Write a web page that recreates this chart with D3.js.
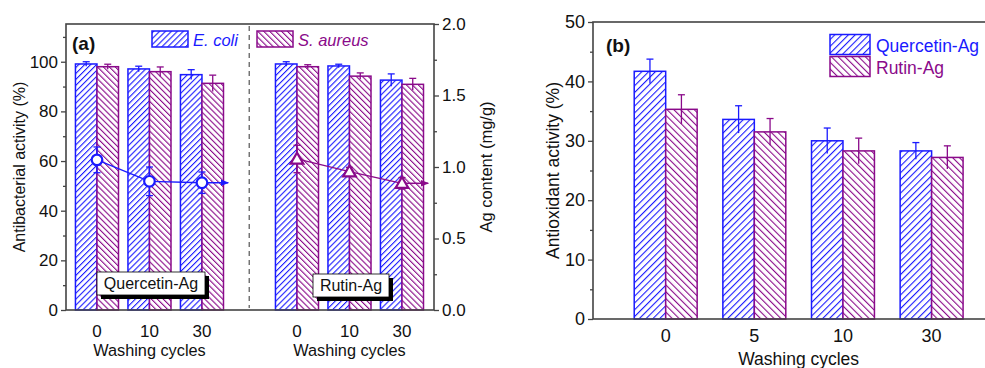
<!DOCTYPE html>
<html>
<head>
<meta charset="utf-8">
<script src="https://cdn.jsdelivr.net/npm/d3@7"></script>
<style>
  body { margin: 0; background: #fff; }
  text { font-family: "Liberation Sans", Arial, sans-serif; }
</style>
</head>
<body>
<script>
// panel (a) data: antibacterial activity (%) and Ag content (mg/g)
var cyclesA = ["0", "10", "30"];
var groupsA = ["Quercetin-Ag", "Rutin-Ag"];
var ecoli = [[99.1, 97.1, 94.8], [99.1, 98.3, 92.6]];
var ecoliErr = [[0.9, 1.1, 2.0], [0.9, 0.7, 2.5]];
var saureus = [[98.0, 96.0, 91.3], [98.0, 94.2, 90.9]];
var saureusErr = [[1.0, 1.9, 3.3], [0.8, 1.3, 2.4]];
var agContent = [[1.05, 0.90, 0.89], [1.056, 0.967, 0.886]];
var agErr = [[0.09, 0.10, 0.075], [0.096, 0.03, 0.04]];

// panel (b) data: antioxidant activity (%)
var cyclesB = ["0", "5", "10", "30"];
var quercetinAO = [41.7, 33.6, 30.0, 28.3];
var quercetinAOErr = [2.05, 2.3, 2.15, 1.4];
var rutinAO = [35.3, 31.5, 28.3, 27.2];
var rutinAOErr = [2.45, 2.25, 2.15, 1.95];

var ticksA = [0, 20, 40, 60, 80, 100];
var ticksA2 = [0, 0.5, 1.0, 1.5, 2.0];
var ticksB = [0, 10, 20, 30, 40, 50];

var BLUE = "#1a1aff", PURPLE = "#8a0a8a", AXIS = "#444";

var svg = d3.select("body").append("svg")
  .attr("width", 985).attr("height", 368);

var defs = svg.append("defs");
function hatch(id, color, angle, gap) {
  var p = defs.append("pattern")
    .attr("id", id)
    .attr("patternUnits", "userSpaceOnUse")
    .attr("width", gap).attr("height", gap)
    .attr("patternTransform", "rotate(" + angle + ")");
  p.append("rect").attr("width", gap).attr("height", gap).attr("fill", "#fff");
  p.append("line").attr("x1", 0).attr("y1", 0).attr("x2", 0).attr("y2", gap)
    .attr("stroke", color).attr("stroke-width", 2.2);
}
hatch("hBlueA", BLUE, 45, 4.2);
hatch("hPurpA", PURPLE, -45, 4.2);
hatch("hBlueB", BLUE, 45, 4.8);
hatch("hPurpB", PURPLE, -45, 4.8);

defs.append("marker").attr("id", "arrB")
  .attr("viewBox", "0 0 10 10").attr("refX", 9).attr("refY", 5)
  .attr("markerWidth", 10).attr("markerHeight", 8).attr("markerUnits", "userSpaceOnUse")
  .attr("orient", "auto")
  .append("path").attr("d", "M0,1 L10,5 L0,9 Z").attr("fill", BLUE);
defs.append("marker").attr("id", "arrP")
  .attr("viewBox", "0 0 10 10").attr("refX", 9).attr("refY", 5)
  .attr("markerWidth", 10).attr("markerHeight", 8).attr("markerUnits", "userSpaceOnUse")
  .attr("orient", "auto")
  .append("path").attr("d", "M0,1 L10,5 L0,9 Z").attr("fill", PURPLE);

function errBar(g, x, y0, y1, color, cap, both) {
  g.append("line").attr("x1", x).attr("x2", x).attr("y1", y0).attr("y2", y1)
    .attr("stroke", color).attr("stroke-width", 1.3);
  g.append("line").attr("x1", x - cap / 2).attr("x2", x + cap / 2).attr("y1", y1).attr("y2", y1)
    .attr("stroke", color).attr("stroke-width", 1.3);
  if (both) {
    g.append("line").attr("x1", x - cap / 2).attr("x2", x + cap / 2).attr("y1", y0).attr("y2", y0)
      .attr("stroke", color).attr("stroke-width", 1.3);
  }
}

function minorAxis(g, axisFn, scale, vals) {
  g.call(axisFn(scale).tickValues(vals).tickSize(3).tickFormat(""))
    .call(function(s) { s.select(".domain").remove(); s.selectAll("line").attr("stroke", AXIS).attr("stroke-width", 1.3); });
}

// ---------------- panel (a) ----------------
var aL = 66, aR = 434, aT = 24, aB = 310;
var xa = d3.scaleLinear().domain([0.41, 7.42]).range([aL, aR]);
var ya = d3.scaleLinear().domain([0, 115.2]).range([aB, aT]);
var ya2 = d3.scaleLinear().domain([0, 2]).range([aB, aT]);
var groupOffset = [1, 4.81];
var bwA = xa(0.41) - xa(0);

var pa = svg.append("g");

groupsA.forEach(function(gname, gi) {
  cyclesA.forEach(function(c, i) {
    var cx = xa(groupOffset[gi] + i);
    pa.append("rect").attr("x", cx - bwA).attr("y", ya(ecoli[gi][i]))
      .attr("width", bwA).attr("height", ya(0) - ya(ecoli[gi][i]))
      .attr("fill", "url(#hBlueA)").attr("stroke", BLUE).attr("stroke-width", 1.5);
    pa.append("rect").attr("x", cx).attr("y", ya(saureus[gi][i]))
      .attr("width", bwA).attr("height", ya(0) - ya(saureus[gi][i]))
      .attr("fill", "url(#hPurpA)").attr("stroke", PURPLE).attr("stroke-width", 1.5);
    errBar(pa, cx - bwA / 2, ya(ecoli[gi][i] - ecoliErr[gi][i]), ya(ecoli[gi][i] + ecoliErr[gi][i]), BLUE, 7, false);
    errBar(pa, cx + bwA / 2, ya(saureus[gi][i] - saureusErr[gi][i]), ya(saureus[gi][i] + saureusErr[gi][i]), PURPLE, 7, false);
    pa.append("text").attr("x", cx).attr("y", 337).attr("text-anchor", "middle")
      .attr("font-size", 17).attr("fill", "#111").text(c);
  });
  pa.append("text").attr("x", xa(groupOffset[gi] + 1)).attr("y", 356).attr("text-anchor", "middle")
    .attr("font-size", 16.3).attr("fill", "#111").text("Washing cycles");
});

// Ag content lines
groupsA.forEach(function(gname, gi) {
  var col = gi === 0 ? BLUE : PURPLE;
  var pts = agContent[gi].map(function(v, i) { return [xa(groupOffset[gi] + i), ya2(v)]; });
  pa.append("path").attr("d", d3.line()(pts)).attr("fill", "none")
    .attr("stroke", col).attr("stroke-width", 1.3);
  var last = pts[pts.length - 1];
  pa.append("line").attr("x1", last[0]).attr("y1", last[1])
    .attr("x2", xa(groupOffset[gi] + 2.5)).attr("y2", last[1])
    .attr("stroke", col).attr("stroke-width", 1.5)
    .attr("marker-end", gi === 0 ? "url(#arrB)" : "url(#arrP)");
  agContent[gi].forEach(function(v, i) {
    errBar(pa, pts[i][0], ya2(v - agErr[gi][i]), ya2(v + agErr[gi][i]), col, 7, true);
  });
  pts.forEach(function(p) {
    if (gi === 0) {
      pa.append("circle").attr("cx", p[0]).attr("cy", p[1]).attr("r", 5.3)
        .attr("fill", "#fff").attr("stroke", col).attr("stroke-width", 2.2);
    } else {
      pa.append("path").attr("transform", "translate(" + p[0] + "," + (p[1] + 1) + ")")
        .attr("d", d3.symbol(d3.symbolTriangle, 70)())
        .attr("fill", "#fff").attr("stroke", col).attr("stroke-width", 2.2);
    }
  });
});

// dashed separator
pa.append("line").attr("x1", xa(3.9)).attr("x2", xa(3.9)).attr("y1", aT + 2).attr("y2", aB - 2)
  .attr("stroke", "#555").attr("stroke-width", 1.2).attr("stroke-dasharray", "5,4");

// frame and axes
pa.append("rect").attr("x", aL).attr("y", aT).attr("width", aR - aL).attr("height", aB - aT)
  .attr("fill", "none").attr("stroke", AXIS).attr("stroke-width", 1.6);

var la = pa.append("g").attr("transform", "translate(" + aL + ",0)")
  .call(d3.axisLeft(ya).tickValues(ticksA).tickSize(5).tickPadding(3));
la.select(".domain").remove();
la.selectAll("line").attr("stroke", AXIS).attr("stroke-width", 1.3);
la.selectAll("text").attr("font-size", 17).attr("fill", "#111").attr("font-family", "Liberation Sans, Arial, sans-serif");
minorAxis(pa.append("g").attr("transform", "translate(" + aL + ",0)"), d3.axisLeft, ya, [10, 30, 50, 70, 90, 110]);

var ra = pa.append("g").attr("transform", "translate(" + aR + ",0)")
  .call(d3.axisRight(ya2).tickValues(ticksA2).tickSize(5).tickPadding(3).tickFormat(d3.format(".1f")));
ra.select(".domain").remove();
ra.selectAll("line").attr("stroke", AXIS).attr("stroke-width", 1.3);
ra.selectAll("text").attr("font-size", 17).attr("fill", "#111").attr("font-family", "Liberation Sans, Arial, sans-serif");
minorAxis(pa.append("g").attr("transform", "translate(" + aR + ",0)"), d3.axisRight, ya2, [0.25, 0.75, 1.25, 1.75]);

pa.append("text").attr("transform", "translate(19," + ((aT + aB) / 2) + ") rotate(-90)")
  .attr("text-anchor", "middle").attr("dy", "0.35em").attr("font-size", 16).attr("fill", "#111")
  .text("Antibacterial activity (%)");
pa.append("text").attr("transform", "translate(486," + ((aT + aB) / 2) + ") rotate(-90)")
  .attr("text-anchor", "middle").attr("dy", "0.35em").attr("font-size", 16.5).attr("fill", "#111")
  .text("Ag content (mg/g)");

pa.append("text").attr("x", 72).attr("y", 50).attr("font-size", 19).attr("font-weight", "bold")
  .attr("fill", "#111").text("(a)");

// legend (a)
pa.append("rect").attr("x", 152).attr("y", 31).attr("width", 36).attr("height", 16)
  .attr("fill", "url(#hBlueA)").attr("stroke", BLUE).attr("stroke-width", 1.5);
pa.append("text").attr("x", 193).attr("y", 45.5).attr("font-size", 16.5).attr("font-style", "italic")
  .attr("fill", BLUE).text("E. coli");
pa.append("rect").attr("x", 257).attr("y", 31).attr("width", 36).attr("height", 16)
  .attr("fill", "url(#hPurpA)").attr("stroke", PURPLE).attr("stroke-width", 1.5);
pa.append("text").attr("x", 298).attr("y", 45.5).attr("font-size", 16.5).attr("font-style", "italic")
  .attr("fill", PURPLE).text("S. aureus");

// sample name boxes with shadow
function nameBox(x, y, w, h, label) {
  pa.append("rect").attr("x", x + 4).attr("y", y + 4).attr("width", w).attr("height", h).attr("fill", "#000");
  pa.append("rect").attr("x", x).attr("y", y).attr("width", w).attr("height", h)
    .attr("fill", "#fff").attr("stroke", "#000").attr("stroke-width", 0.8);
  pa.append("text").attr("x", x + w / 2).attr("y", y + h / 2).attr("dy", "0.36em")
    .attr("text-anchor", "middle").attr("font-size", 16).attr("fill", "#111").text(label);
}
nameBox(97, 272, 108, 23, groupsA[0]);
nameBox(313, 274, 76, 23, groupsA[1]);

// ---------------- panel (b) ----------------
var bL = 593, bR = 991, bT = 22, bB = 319;
var xb = d3.scaleLinear().domain([-0.82, 3.67]).range([bL, bR]);
var yb = d3.scaleLinear().domain([0, 50]).range([bB, bT]);
var bwB = xb(0.355) - xb(0);

var pb = svg.append("g");
cyclesB.forEach(function(c, i) {
  var cx = xb(i);
  pb.append("rect").attr("x", cx - bwB).attr("y", yb(quercetinAO[i]))
    .attr("width", bwB).attr("height", yb(0) - yb(quercetinAO[i]))
    .attr("fill", "url(#hBlueB)").attr("stroke", BLUE).attr("stroke-width", 1.5);
  pb.append("rect").attr("x", cx).attr("y", yb(rutinAO[i]))
    .attr("width", bwB).attr("height", yb(0) - yb(rutinAO[i]))
    .attr("fill", "url(#hPurpB)").attr("stroke", PURPLE).attr("stroke-width", 1.5);
  errBar(pb, cx - bwB / 2, yb(quercetinAO[i] - quercetinAOErr[i]), yb(quercetinAO[i] + quercetinAOErr[i]), BLUE, 7, false);
  errBar(pb, cx + bwB / 2, yb(rutinAO[i] - rutinAOErr[i]), yb(rutinAO[i] + rutinAOErr[i]), PURPLE, 7, false);
  pb.append("text").attr("x", cx).attr("y", 342).attr("text-anchor", "middle")
    .attr("font-size", 18).attr("fill", "#111").text(c);
});

pb.append("rect").attr("x", bL).attr("y", bT).attr("width", bR - bL).attr("height", bB - bT)
  .attr("fill", "none").attr("stroke", AXIS).attr("stroke-width", 1.6);

var lb = pb.append("g").attr("transform", "translate(" + bL + ",0)")
  .call(d3.axisLeft(yb).tickValues(ticksB).tickSize(5).tickPadding(3));
lb.select(".domain").remove();
lb.selectAll("line").attr("stroke", AXIS).attr("stroke-width", 1.3);
lb.selectAll("text").attr("font-size", 18).attr("fill", "#111").attr("font-family", "Liberation Sans, Arial, sans-serif");
minorAxis(pb.append("g").attr("transform", "translate(" + bL + ",0)"), d3.axisLeft, yb, [5, 15, 25, 35, 45]);

pb.append("text").attr("transform", "translate(553," + ((bT + bB) / 2) + ") rotate(-90)")
  .attr("text-anchor", "middle").attr("dy", "0.35em").attr("font-size", 17.5).attr("fill", "#111")
  .text("Antioxidant activity (%)");
pb.append("text").attr("x", xb(1.5)).attr("y", 365).attr("text-anchor", "middle")
  .attr("font-size", 17.5).attr("fill", "#111").text("Washing cycles");

pb.append("text").attr("x", 606).attr("y", 52).attr("font-size", 19).attr("font-weight", "bold")
  .attr("fill", "#111").text("(b)");

// legend (b)
pb.append("rect").attr("x", 830).attr("y", 34.5).attr("width", 40).attr("height", 20)
  .attr("fill", "url(#hBlueB)").attr("stroke", BLUE).attr("stroke-width", 1.5);
pb.append("text").attr("x", 876).attr("y", 51.5).attr("font-size", 17.5).attr("fill", BLUE).text(groupsA[0]);
pb.append("rect").attr("x", 830).attr("y", 56.5).attr("width", 40).attr("height", 20)
  .attr("fill", "url(#hPurpB)").attr("stroke", PURPLE).attr("stroke-width", 1.5);
pb.append("text").attr("x", 876).attr("y", 73.5).attr("font-size", 17.5).attr("fill", PURPLE).text(groupsA[1]);
</script>
</body>
</html>
